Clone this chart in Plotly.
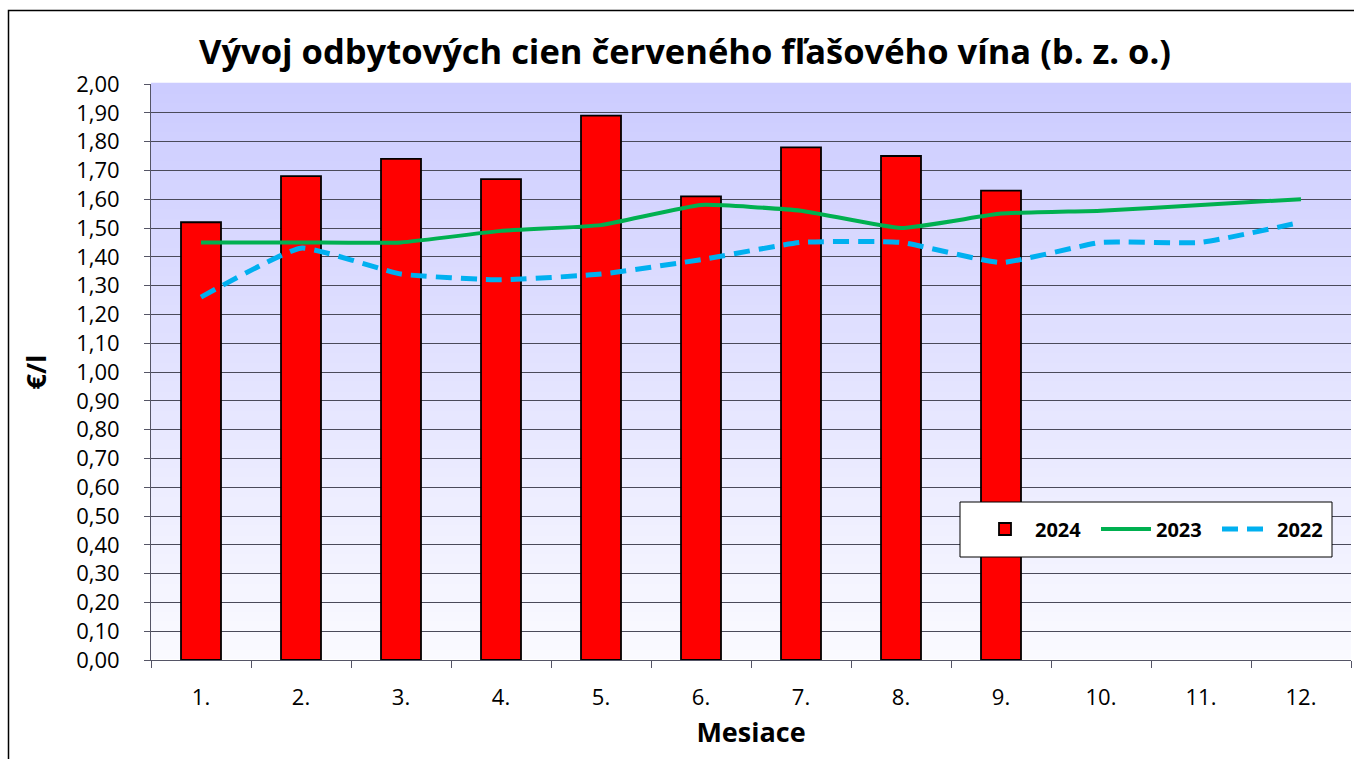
import plotly.graph_objects as go

months = ["1.", "2.", "3.", "4.", "5.", "6.", "7.", "8.", "9.", "10.", "11.", "12."]
v2024 = [1.52, 1.68, 1.74, 1.67, 1.89, 1.61, 1.78, 1.75, 1.63]
v2023 = [1.45, 1.45, 1.45, 1.49, 1.51, 1.58, 1.56, 1.50, 1.55, 1.56, 1.58, 1.60]
v2022 = [1.26, 1.43, 1.34, 1.32, 1.34, 1.39, 1.45, 1.45, 1.38, 1.45, 1.45, 1.52]

W, H = 1354, 759
L, R, T, B = 151, 3, 84, 99
PW, PH = W - L - R, H - T - B


def px_x(p):
    return (p - L) / PW


def px_y(p):
    return (H - B - p) / PH


fig = go.Figure()
fig.add_trace(go.Bar(x=months[:len(v2024)], y=v2024, name="<b>2024</b>",
                     marker=dict(color="#FF0000", line=dict(color="#000000", width=1.8))))
fig.add_trace(go.Scatter(x=months, y=v2023, name="<b>2023</b>", mode="lines",
                         line=dict(color="#00B050", width=4, shape="spline", smoothing=0.4)))
fig.add_trace(go.Scatter(x=months, y=v2022, name="<b>2022</b>", mode="lines",
                         line=dict(color="#00B0F0", width=5, dash="16px,9px", shape="spline", smoothing=0.4)))

# gradient background bands
shapes = []
n = 60
top = (204, 204, 255)
bot = (250, 250, 255)
for i in range(n):
    f = i / (n - 1)
    c = tuple(round(bot[k] + (top[k] - bot[k]) * f) for k in range(3))
    shapes.append(dict(type="rect", xref="x domain", yref="y domain",
                       x0=0, x1=1, y0=i / n, y1=(i + 1) / n + 0.002,
                       fillcolor="rgb(%d,%d,%d)" % c, line=dict(width=0), layer="below"))
# outer chart border
shapes.append(dict(type="rect", xref="paper", yref="paper",
                   x0=px_x(8.5), x1=px_x(1380), y0=px_y(790), y1=px_y(10.5),
                   line=dict(color="#000000", width=1.5), fillcolor="rgba(0,0,0,0)", layer="below"))
# legend box
shapes.append(dict(type="rect", xref="paper", yref="paper",
                   x0=px_x(960), x1=px_x(1332), y0=px_y(557), y1=px_y(502),
                   line=dict(color="#000000", width=1), fillcolor="white", layer="above"))

fig.update_layout(
    width=W, height=H,
    margin=dict(l=L, r=R, t=T, b=B, autoexpand=False),
    paper_bgcolor="white",
    plot_bgcolor="white",
    separators=", ",
    bargap=0.6,
    shapes=shapes,
    font=dict(family="Open Sans", color="#000000"),
    title=dict(text="<b>Vývoj odbytových cien červeného fľašového vína (b. z. o.)</b>",
               x=685 / W, xref="container", xanchor="center", y=1 - 52 / H, yanchor="middle",
               font=dict(size=34.5, family="Open Sans", color="#000000")),
    legend=dict(orientation="h", x=px_x(975), y=px_y(529), xanchor="left", yanchor="middle",
                bgcolor="rgba(0,0,0,0)", borderwidth=0,
                font=dict(size=20, family="Open Sans", color="#000000"),
                entrywidth=56, entrywidthmode="pixels", itemwidth=50, traceorder="normal"),
    xaxis=dict(type="category", tickson="boundaries", ticks="outside", ticklen=7,
               tickcolor="#555566", showline=True, linecolor="#555566", linewidth=1,
               showgrid=False, tickfont=dict(size=22), ticklabelstandoff=18, automargin=False,
               title=dict(text="<b>Mesiace</b>", font=dict(size=27), standoff=12),
               range=[-0.5, 11.5]),
    yaxis=dict(range=[0, 2.0], dtick=0.1, tickformat=".2f", ticks="outside", ticklen=6,
               tickcolor="#555566", showline=True, linecolor="#555566", linewidth=1,
               showgrid=True, gridcolor="#4a4a5a", gridwidth=1, automargin=False,
               tickfont=dict(size=22), ticklabelstandoff=20,
               title=dict(text="<b>€/l</b>", font=dict(size=27), standoff=21)),
)

fig.write_html("out.html", config={"displayModeBar": False},
               post_script="document.body.style.margin='0';")
